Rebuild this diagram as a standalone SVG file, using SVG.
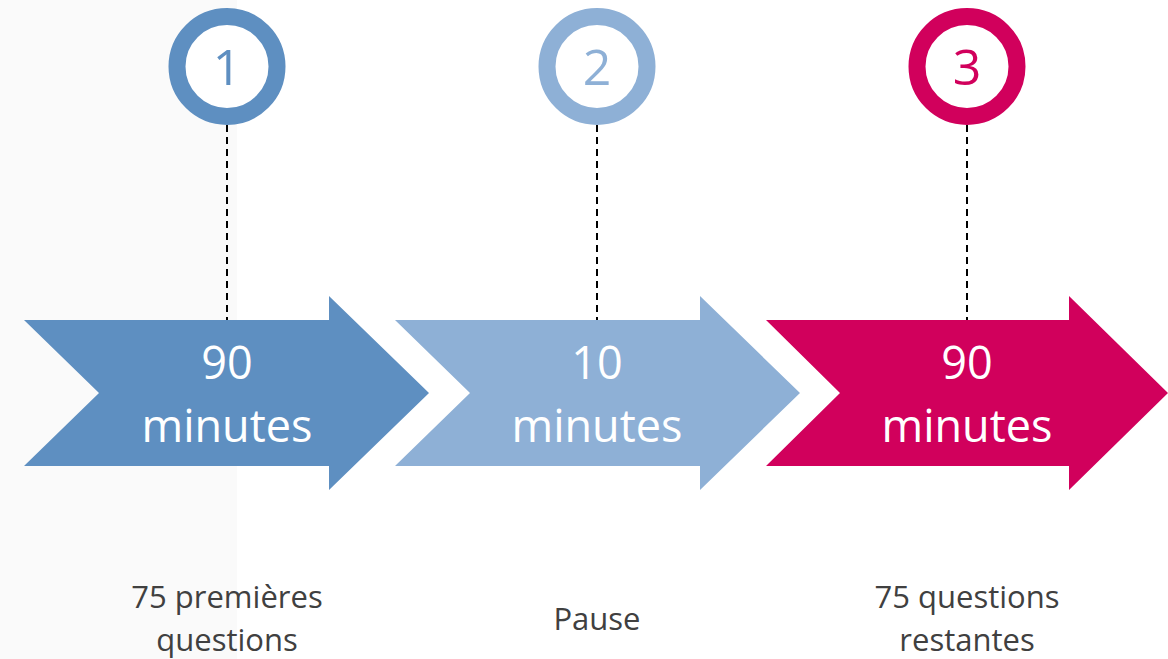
<svg xmlns="http://www.w3.org/2000/svg" width="1168" height="659" viewBox="0 0 1168 659">
<style>
.ring{fill:#fff;stroke-width:17}
.num{font-family:"Open Sans","Liberation Sans",sans-serif;font-size:50px;text-anchor:middle}
.big{font-family:"Open Sans","Liberation Sans",sans-serif;font-size:45px;fill:#fff;text-anchor:middle}
.cap{font-family:"Open Sans","Liberation Sans",sans-serif;font-size:31px;fill:#404040;text-anchor:middle}
.dash{stroke:#000;stroke-width:2;stroke-dasharray:7 5;fill:none}
</style>
<rect x="0" y="0" width="1168" height="659" fill="#fff"/>
<rect x="0" y="0" width="237" height="659" fill="#fafafa"/>
<g id="connectors">
<line class="dash" x1="227" y1="125" x2="227" y2="320"/>
<line class="dash" x1="597" y1="125" x2="597" y2="320"/>
<line class="dash" x1="967" y1="125" x2="967" y2="320"/>
</g>
<g id="step1">
<polygon points="24,320 329,320 329,296 429,393 329,490 329,466 24,466 99,393" fill="#5e8fc1"/>
<text class="big" x="227" y="379">90</text>
<text class="big" x="227" y="442">minutes</text>
<circle class="ring" cx="227" cy="66.5" r="50" stroke="#5e8fc1"/>
<text class="num" x="227" y="85" fill="#5e8fc1">1</text>
<text class="cap" x="227" y="608">75 premières</text>
<text class="cap" x="227" y="651">questions</text>
</g>
<g id="step2">
<polygon points="395,320 700,320 700,296 800,393 700,490 700,466 395,466 470,393" fill="#8eb0d6"/>
<text class="big" x="597" y="379">10</text>
<text class="big" x="597" y="442">minutes</text>
<circle class="ring" cx="597" cy="66.5" r="50" stroke="#8eb0d6"/>
<text class="num" x="597" y="85" fill="#8eb0d6">2</text>
<text class="cap" x="597" y="630">Pause</text>
</g>
<g id="step3">
<polygon points="766,320 1069,320 1069,296 1168,393 1069,490 1069,466 766,466 840,393" fill="#d1005c"/>
<text class="big" x="967" y="379">90</text>
<text class="big" x="967" y="442">minutes</text>
<circle class="ring" cx="967" cy="66.5" r="50" stroke="#d1005c"/>
<text class="num" x="967" y="85" fill="#d1005c">3</text>
<text class="cap" x="967" y="608">75 questions</text>
<text class="cap" x="967" y="651">restantes</text>
</g>
</svg>
